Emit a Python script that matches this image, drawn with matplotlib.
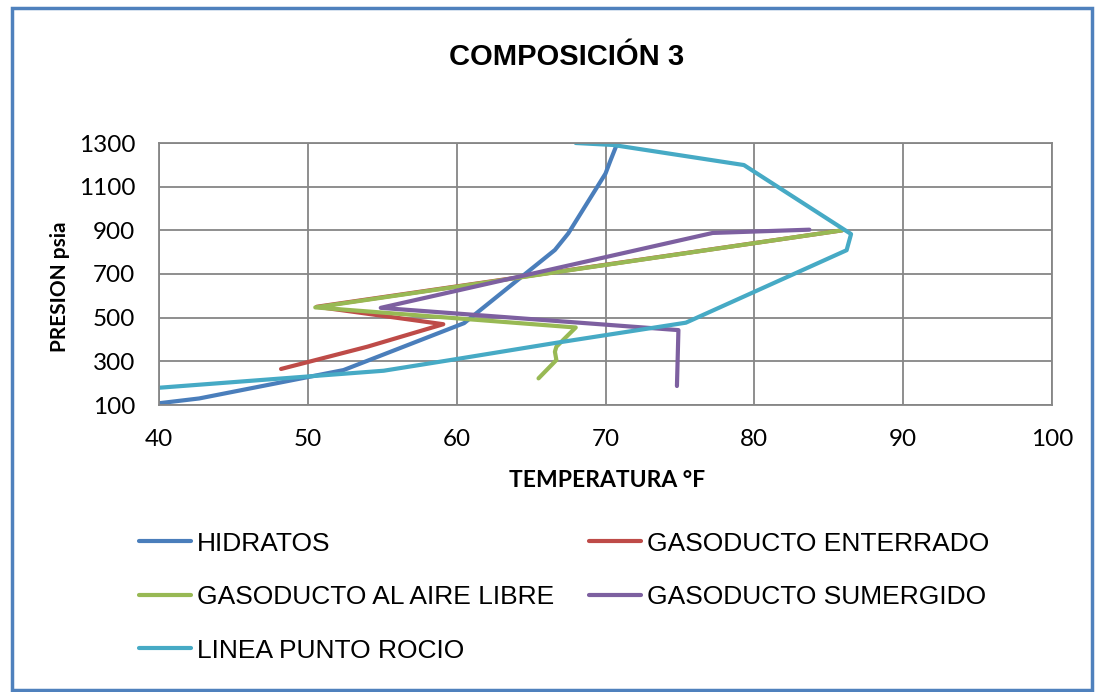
import matplotlib
matplotlib.use("Agg")
import matplotlib.pyplot as plt
from matplotlib.patches import Rectangle

# temperatura (F) / presion (psia)
hidratos_t = [40.0, 42.7, 52.4, 60.5, 66.6, 67.5, 70.0, 70.3, 70.8]
hidratos_p = [108, 130, 260, 475, 810, 886, 1160, 1214, 1300]

enterrado_t = [48.2, 54.0, 59.1, 50.6, 85.9]
enterrado_p = [265, 367, 470, 550, 900]

aire_t = [65.5, 66.7, 66.6, 66.7, 68.0, 50.5, 85.9]
aire_p = [222, 306, 344, 367, 455, 547, 900]

sumergido_t = [74.8, 74.9, 54.9, 77.2, 83.7]
sumergido_p = [187, 443, 545, 888, 903]

rocio_t = [40.0, 55.1, 59.5, 66.7, 75.4, 86.2, 86.5, 79.3, 70.5, 68.0]
rocio_p = [179, 257, 305, 385, 477, 809, 883, 1199, 1291, 1300]

xticks = [40, 50, 60, 70, 80, 90, 100]
yticks = [100, 300, 500, 700, 900, 1100, 1300]

fig = plt.figure(figsize=(10.99, 6.92), dpi=100)
ax = fig.add_axes([159/1099, 1-405/692, (1052-159)/1099, (405-143)/692])

lw = 3.0
h1, = ax.plot(hidratos_t, hidratos_p, color="#4A7EBB", lw=lw, label="HIDRATOS", solid_capstyle="round")
h2, = ax.plot(enterrado_t, enterrado_p, color="#BE4B48", lw=lw, label="GASODUCTO ENTERRADO", solid_capstyle="round")
h3, = ax.plot(aire_t, aire_p, color="#98B954", lw=lw, label="GASODUCTO AL AIRE LIBRE", solid_capstyle="round")
h4, = ax.plot(sumergido_t, sumergido_p, color="#7D60A0", lw=lw, label="GASODUCTO SUMERGIDO", solid_capstyle="round")
h5, = ax.plot(rocio_t, rocio_p, color="#46AAC5", lw=lw, label="LINEA PUNTO ROCIO", solid_capstyle="round")

ax.set_xlim(40, 100)
ax.set_ylim(100, 1300)
ax.set_xticks(xticks)
ax.set_yticks(yticks)
ax.grid(True, color="#868686", lw=1.3)
ax.set_axisbelow(True)
for s in ax.spines.values():
    s.set_color("#868686")
    s.set_linewidth(1.3)
ax.tick_params(length=0, pad=17, labelsize=17.5)
for lab in ax.get_xticklabels() + ax.get_yticklabels():
    lab.set_family("Lato")

ax.set_xlabel("TEMPERATURA °F", fontsize=16.5, fontweight="bold", family="Lato")
ax.set_ylabel("PRESION psia", fontsize=15, fontweight="bold", family="Lato")
ax.xaxis.set_label_coords((607-159)/(1052-159), -(470-405)/(405-143))
ax.yaxis.set_label_coords(-(159-70)/(1052-159), (405-287)/(405-143))

fig.text(567/1099, 1-57/692, "COMPOSICIÓN 3", ha="center", va="center",
         fontsize=21, fontweight="bold", family="Liberation Sans")

fig.legend([h1, h3, h5, h2, h4],
           ["HIDRATOS", "GASODUCTO AL AIRE LIBRE", "LINEA PUNTO ROCIO",
            "GASODUCTO ENTERRADO", "GASODUCTO SUMERGIDO"],
           ncol=2, loc="upper left", bbox_to_anchor=(128/1099, 1-521/692),
           frameon=False, prop={"family": "Liberation Sans", "size": 19},
           handlelength=1.97, handletextpad=0.25, columnspacing=1.3, labelspacing=1.12,
           borderaxespad=0)

fig.patches.append(Rectangle((12/1099, 2/692), 1080/1099, 682/692, transform=fig.transFigure,
                             fill=False, edgecolor="#4F81BD", lw=2.5))

fig.savefig("out.png", dpi=100)
